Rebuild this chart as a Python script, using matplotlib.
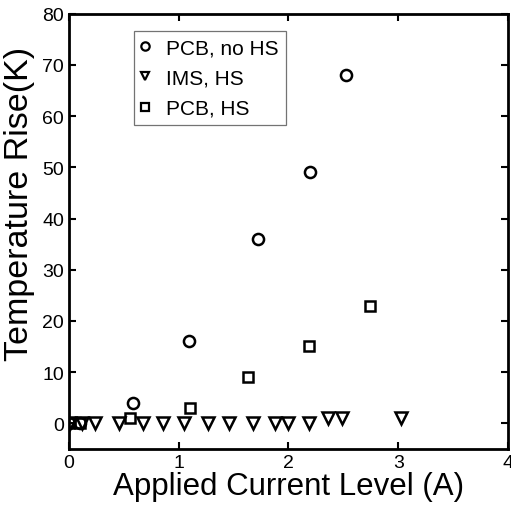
import matplotlib
matplotlib.use('Agg')
import matplotlib.pyplot as plt
from matplotlib.lines import Line2D

plt.rcParams['font.family'] = ['Liberation Sans', 'DejaVu Sans']

# PCB, no HS
pcb_nohs_x = [0.0, 0.1, 0.58, 1.09, 1.72, 2.2, 2.52]
pcb_nohs_y = [0, 0, 4, 16, 36, 49, 68]

# IMS, HS
ims_hs_x = [0.01, 0.12, 0.24, 0.46, 0.67, 0.86, 1.05, 1.27, 1.46, 1.68, 1.88, 2.0, 2.19, 2.36, 2.49, 3.03]
ims_hs_y = [0, 0, 0, 0, 0, 0, 0, 0, 0, 0, 0, 0, 0, 1, 1, 1]

# PCB, HS
pcb_hs_x = [0.0, 0.1, 0.56, 1.1, 1.63, 2.19, 2.74]
pcb_hs_y = [0, 0, 1, 3, 9, 15, 23]

labels = ['PCB, no HS', 'IMS, HS', 'PCB, HS']
markers = ['o', 'v', 's']

fig = plt.figure(figsize=(5.11, 5.10), dpi=100)
ax = fig.add_axes([0.135, 0.118, 0.859, 0.853])

mk = dict(linestyle='none', markerfacecolor='none', markeredgecolor='black', markeredgewidth=1.8)
ax.plot(pcb_nohs_x, pcb_nohs_y, marker='o', markersize=8, **mk)
ax.plot(ims_hs_x, ims_hs_y, marker='v', markersize=8, **mk)
ax.plot(pcb_hs_x, pcb_hs_y, marker='s', markersize=7.5, **mk)

ax.set_xlim(0, 4)
ax.set_ylim(-5, 80)
ax.set_xticks([0, 1, 2, 3, 4])
ax.set_yticks(range(0, 81, 10))
ax.tick_params(direction='in', top=True, right=True, length=5, width=1.5, labelsize=14)
for s in ax.spines.values():
    s.set_linewidth(2)

ax.set_xlabel('Applied Current Level (A)', fontsize=22.5, labelpad=0)
ax.set_ylabel('Temperature Rise(K)', fontsize=24.5)
ax.yaxis.set_label_coords(-0.077, 0.566)

handles = [Line2D([0], [0], linestyle='none', marker=m, markersize=6, markerfacecolor='none',
                  markeredgecolor='black', markeredgewidth=1.6) for m in markers]
leg = ax.legend(handles, labels, loc='upper left', bbox_to_anchor=(0.148, 0.961), fontsize=15,
                handlelength=0.4, handletextpad=0.8, fancybox=False, edgecolor='0.45',
                framealpha=1, borderpad=0.35, labelspacing=0.55, borderaxespad=0)
leg.get_frame().set_linewidth(0.9)

fig.savefig('out.png', dpi=100)
